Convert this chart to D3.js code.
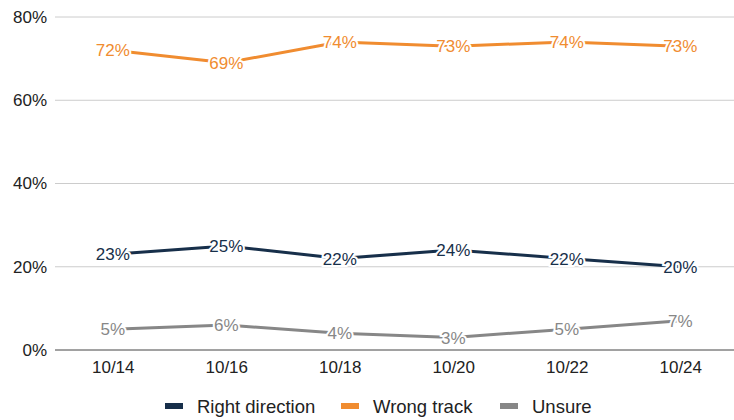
<!DOCTYPE html>
<html lang="en">
<head>
    <meta charset="utf-8">
    <title>Right direction / wrong track</title>
    <style>
        body { margin: 0; background: #fff; }
        text { font-family: "Liberation Sans", Arial, sans-serif; }
        .grid line { stroke: #cccccc; stroke-width: 1; }
        .grid line.zero { stroke: #444; }
        .axis text { fill: #222; font-size: 17px; }
    </style>
</head>
<body>
    <div id="chart"></div>
    <script src="https://cdn.jsdelivr.net/npm/d3@7"></script>
    <script>
        const dates = ['10/14', '10/16', '10/18', '10/20', '10/22', '10/24'];
        const right_direction = [23, 25, 22, 24, 22, 20];
        const wrong_track = [72, 69, 74, 73, 74, 73];
        const unsure = [5, 6, 4, 3, 5, 7];
        const y_ticks = [0, 20, 40, 60, 80];

        const series = [
            {name: 'Right direction', values: right_direction, color: '#172f4a'},
            {name: 'Wrong track', values: wrong_track, color: '#f08c30'},
            {name: 'Unsure', values: unsure, color: '#878787'}
        ];

        const width = 734, height = 420,
            margins = {top: 17, right: 0, bottom: 70, left: 56};

        const svg = d3.select('#chart')
            .append('svg')
                .attr('width', width)
                .attr('height', height);

        const x = d3.scalePoint()
            .domain(dates)
            .range([margins.left, 737])
            .padding(0.5);

        const y = d3.scaleLinear()
            .domain([0, 80])
            .range([height - margins.bottom, margins.top]);

        // gridlines
        svg.append('g')
            .attr('class', 'grid')
            .selectAll('line')
            .data(y_ticks)
            .join('line')
                .attr('class', d => d === 0 ? 'zero' : null)
                .attr('x1', 55)
                .attr('x2', width)
                .attr('y1', d => y(d))
                .attr('y2', d => y(d));

        // y axis labels
        const y_axis = d3.axisLeft(y).tickValues(y_ticks).tickFormat(d => d + '%').tickSize(0).tickPadding(9);
        svg.append('g')
            .attr('class', 'axis')
            .attr('transform', `translate(${margins.left}, 0)`)
            .call(y_axis)
            .call(g => g.select('.domain').remove())
            .selectAll('text').attr('font-family', null).attr('font-size', null);

        // x axis labels
        const x_axis = d3.axisBottom(x).tickSize(0).tickPadding(11);
        svg.append('g')
            .attr('class', 'axis')
            .attr('transform', `translate(0, ${y(0)})`)
            .call(x_axis)
            .call(g => g.select('.domain').remove())
            .selectAll('text').attr('font-family', null).attr('font-size', null);

        const line = d3.line()
            .x((d, i) => x(dates[i]))
            .y(d => y(d));

        series.forEach(s => {
            svg.append('path')
                .attr('d', line(s.values))
                .attr('fill', 'none')
                .attr('stroke', s.color)
                .attr('stroke-width', 3)
                .attr('stroke-linejoin', 'round');
        });

        // point labels with white halo
        series.forEach(s => {
            svg.append('g')
                .selectAll('text')
                .data(s.values)
                .join('text')
                    .attr('x', (d, i) => x(dates[i]))
                    .attr('y', d => y(d))
                    .attr('dy', '0.36em')
                    .attr('text-anchor', 'middle')
                    .attr('font-size', 17)
                    .attr('fill', s.color)
                    .attr('stroke', '#fff')
                    .attr('stroke-width', 4)
                    .attr('paint-order', 'stroke')
                    .text(d => d + '%');
        });

        // legend
        const legend_x = [165, 341, 500];
        const legend = svg.append('g')
            .selectAll('g')
            .data(series)
            .join('g')
                .attr('transform', (d, i) => `translate(${legend_x[i]}, 406)`);
        legend.append('rect')
            .attr('x', 0).attr('y', -3)
            .attr('width', 18).attr('height', 6)
            .attr('fill', d => d.color);
        legend.append('text')
            .attr('x', 32)
            .attr('dy', '0.36em')
            .attr('font-size', 18.5)
            .attr('fill', '#222')
            .text(d => d.name);
    </script>
</body>
</html>
